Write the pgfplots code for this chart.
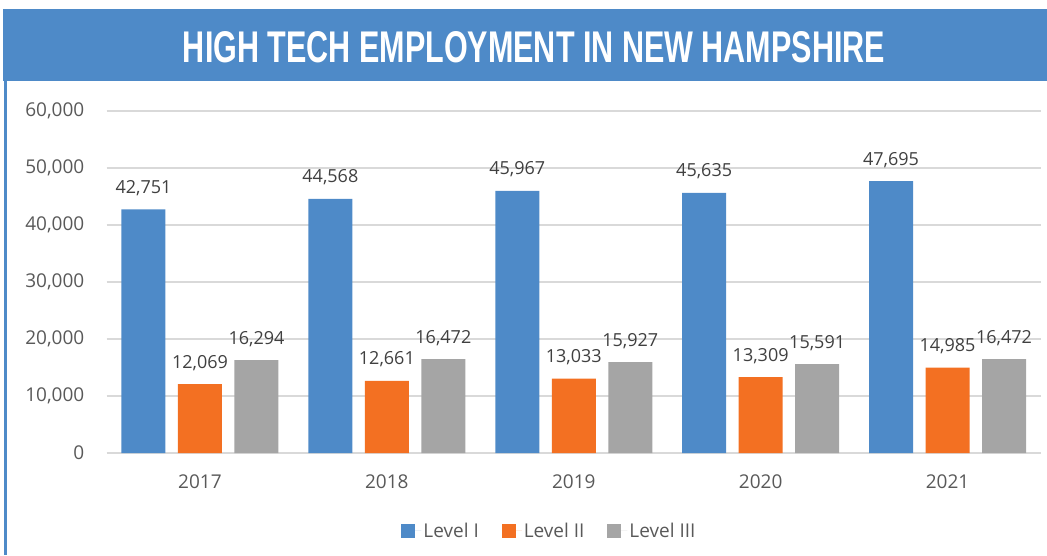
\documentclass[border=0pt]{standalone}
\usepackage{pgfplots}
\pgfplotsset{compat=1.18}
\usepackage{graphicx}
\usepackage{fontspec}
\setmainfont{Open Sans}
\newfontfamily\titlefont{Liberation Sans}
\definecolor{cblue}{HTML}{4E8AC8}
\definecolor{corange}{HTML}{F37022}
\definecolor{cgray}{HTML}{A5A5A5}
\definecolor{banner}{HTML}{4E8AC8}
\definecolor{tickgray}{HTML}{595959}
\definecolor{labelgray}{HTML}{404040}
\definecolor{gridgray}{HTML}{D9D9D9}
\begin{document}
\begin{tikzpicture}[x=1pt,y=1pt]
\path[use as bounding box] (0,0) rectangle (1047,555);
\fill[banner] (3,474) rectangle (1047,546);
\fill[banner] (4.3,0) rectangle (6.5,474);
\node[inner sep=0pt, text=white] at (534,508) {\resizebox{702pt}{31pt}{\titlefont\bfseries HIGH TECH EMPLOYMENT IN NEW HAMPSHIRE}};
\begin{axis}[
  at={(106.5pt,102pt)}, anchor=south west,
  scale only axis, width=934.5pt, height=342pt,
  ybar=12.5pt, bar width=44pt,
  xmin=-0.5, xmax=4.5, ymin=0, ymax=60000,
  xtick={0,1,2,3,4}, xticklabels={2017,2018,2019,2020,2021},
  ytick={0,10000,20000,30000,40000,50000,60000},
  scaled y ticks=false,
  /pgf/number format/.cd, 1000 sep={,}, assume math mode=true, /pgfplots/.cd,
  ymajorgrids, grid style={gridgray, line width=1.5pt},
  axis line style={draw=none},
  major tick length=0pt,
  yticklabel style={font=\fontsize{19}{22}\selectfont, text=tickgray, inner sep=0pt, xshift=-22pt},
  xticklabel style={font=\fontsize{19}{22}\selectfont, text=tickgray, inner sep=0pt, anchor=north, yshift=-22pt},
  nodes near coords,
  nodes near coords style={font=\fontsize{18}{20}\selectfont, text=labelgray, inner sep=0pt, anchor=base, yshift=16pt},
  clip=false,
  legend style={at={(0.474,-0.228)}, anchor=center, draw=none, fill=none,
    legend columns=-1, font=\fontsize{19}{22}\selectfont, text=tickgray,
    /tikz/every even column/.append style={column sep=21pt}},
  legend image code/.code={\fill[#1] (0pt,-7pt) rectangle (14pt,7pt);\path (0pt,0pt) -- (20pt,0pt);},
]
\addplot[fill=cblue, draw=none] coordinates {(0,42751) (1,44568) (2,45967) (3,45635) (4,47695)};
\addplot[fill=corange, draw=none] coordinates {(0,12069) (1,12661) (2,13033) (3,13309) (4,14985)};
\addplot[fill=cgray, draw=none] coordinates {(0,16294) (1,16472) (2,15927) (3,15591) (4,16472)};
\legend{Level I, Level II, Level III}
\end{axis}
\end{tikzpicture}
\end{document}
